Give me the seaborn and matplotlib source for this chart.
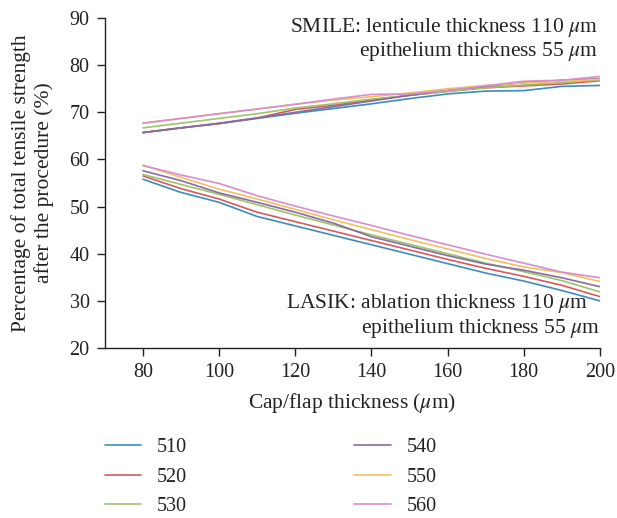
import numpy as np
import pandas as pd
import matplotlib
matplotlib.use("Agg")
import matplotlib.pyplot as plt
import seaborn as sns

thickness = [80, 90, 100, 110, 120, 130, 140, 150, 160, 170, 180, 190, 200]
groups = ["510", "520", "530", "540", "550", "560"]

smile_510 = [65.7, 66.7, 67.6, 68.7, 69.8, 70.8, 71.8, 72.9, 73.9, 74.5, 74.6, 75.5, 75.7]
smile_520 = [65.7, 66.7, 67.6, 68.8, 70.6, 71.5, 72.6, 73.6, 74.5, 75.2, 75.6, 76.0, 76.7]
smile_530 = [66.7, 67.7, 68.7, 69.7, 70.9, 71.8, 72.8, 73.6, 74.4, 75.2, 75.8, 76.3, 76.9]
smile_540 = [65.7, 66.7, 67.7, 68.8, 70.0, 71.2, 72.4, 73.6, 74.7, 75.5, 76.3, 76.8, 77.1]
smile_550 = [67.7, 68.7, 69.7, 70.7, 71.7, 72.6, 73.3, 74.1, 75.0, 75.7, 76.2, 76.6, 77.0]
smile_560 = [67.7, 68.7, 69.7, 70.7, 71.7, 72.8, 73.8, 73.9, 74.6, 75.6, 76.6, 76.8, 77.6]

lasik_510 = [55.8, 53.0, 50.9, 47.9, 45.9, 43.9, 41.9, 39.9, 37.9, 35.9, 34.2, 32.2, 30.0]
lasik_520 = [56.5, 53.8, 51.6, 48.8, 46.8, 44.8, 42.8, 40.8, 38.8, 36.9, 35.2, 33.3, 30.9]
lasik_530 = [56.8, 54.7, 52.6, 50.4, 48.2, 46.1, 44.0, 42.0, 40.0, 38.0, 36.2, 34.3, 31.9]
lasik_540 = [57.6, 55.5, 52.9, 50.9, 48.8, 46.5, 43.6, 41.6, 39.6, 37.8, 36.5, 34.9, 33.0]
lasik_550 = [58.8, 56.2, 53.7, 51.6, 49.4, 47.2, 45.1, 43.0, 41.0, 39.0, 37.2, 36.0, 34.1]
lasik_560 = [58.7, 56.7, 54.9, 52.3, 50.1, 48.0, 46.0, 43.9, 41.9, 39.9, 38.0, 36.1, 34.9]

colors = ["#3b8dba", "#d65a60", "#9cc46b", "#8a6aa2", "#f2c061", "#d98dcc"]

smile = [smile_510, smile_520, smile_530, smile_540, smile_550, smile_560]
lasik = [lasik_510, lasik_520, lasik_530, lasik_540, lasik_550, lasik_560]

rows = []
for g, s, l in zip(groups, smile, lasik):
    for x, v in zip(thickness, s):
        rows.append({"thickness": x, "value": v, "group": g, "procedure": "SMILE"})
    for x, v in zip(thickness, l):
        rows.append({"thickness": x, "value": v, "group": g, "procedure": "LASIK"})
df = pd.DataFrame(rows)

sns.set_style("ticks")
plt.rcParams["font.family"] = ["Liberation Serif", "DejaVu Serif"]
plt.rcParams["mathtext.fontset"] = "stix"

fig = plt.figure(figsize=(6.17, 5.18), dpi=100)
ax = fig.add_axes([0.170, 0.3282, 0.8023, 0.637])

sns.lineplot(data=df, x="thickness", y="value", hue="group", units="procedure",
             estimator=None, palette=dict(zip(groups, colors)), lw=1.2, ax=ax,
             legend=False)

ax.set_xlim(70, 200)
ax.set_ylim(20, 90)
ax.set_xticks([80, 100, 120, 140, 160, 180, 200])
ax.set_yticks([20, 30, 40, 50, 60, 70, 80, 90])
sns.despine(ax=ax)
for s in ["left", "bottom"]:
    ax.spines[s].set_color("#222222")
    ax.spines[s].set_linewidth(1.0)
ax.tick_params(axis="both", labelsize=14.5, length=6, width=1.0, color="#222222",
               labelcolor="#222222", direction="out", pad=5)

ax.set_xlabel(r"Cap/flap thickness ($\mu$m)", fontsize=15.5, color="#222222", labelpad=6)
ax.set_ylabel("Percentage of total tensile strength\nafter the procedure (%)",
              fontsize=15.5, color="#222222", labelpad=11, linespacing=1.2)

tkw = dict(fontsize=15.5, color="#222222", ha="right", va="center")
ax.text(199.5, 87.9, r"SMILE: lenticule thickness 110 $\mu$m", **tkw)
ax.text(199.5, 82.8, r"epithelium thickness 55 $\mu$m", **tkw)
ax.text(197, 29.5, r"LASIK: ablation thickness 110 $\mu$m", **tkw)
ax.text(200, 24.2, r"epithelium thickness 55 $\mu$m", **tkw)

handles = [plt.Line2D([], [], color=c, lw=1.2) for c in colors]
fig.legend(handles, groups, loc="upper left", bbox_to_anchor=(0.147, 0.181),
           ncol=2, frameon=False, fontsize=14.5, handlelength=1.8,
           handletextpad=0.8, columnspacing=8.3, labelspacing=0.5,
           labelcolor="#222222", borderpad=0.2)

fig.savefig("out.png", dpi=100)
